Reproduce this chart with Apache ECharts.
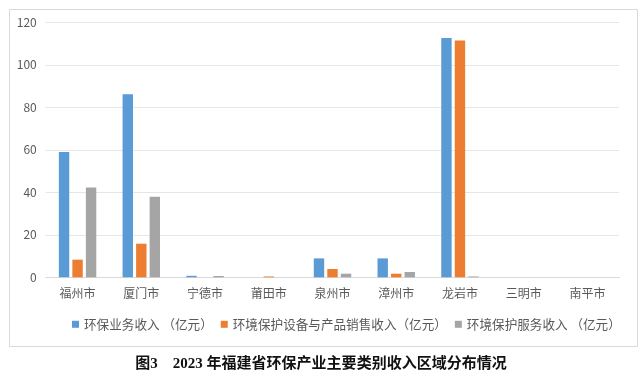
<!DOCTYPE html>
<html>
<head>
<meta charset="utf-8">
<script src="https://cdn.jsdelivr.net/npm/echarts@6/dist/echarts.min.js"></script>
<style>
html,body{margin:0;padding:0;background:#fff;}
#chart{width:642px;height:375px;}
</style>
</head>
<body>
<div id="chart"></div>
<script>
const categories = ['福州市','厦门市','宁德市','莆田市','泉州市','漳州市','龙岩市','三明市','南平市'];
const seriesNames = ['环保业务收入 （亿元）','环境保护设备与产品销售收入（亿元）','环境保护服务收入 （亿元）'];
const businessIncome = [59, 86.1, 0.7, 0, 8.9, 8.9, 112.6, 0, 0];
const equipmentIncome = [8.3, 15.8, 0, 0.4, 3.9, 1.7, 111.4, 0, 0];
const serviceIncome = [42.2, 37.9, 0.6, 0, 1.7, 2.5, 0.4, 0, 0];
const yTicks = [0, 20, 40, 60, 80, 100, 120];
const figureTitle = '图3　2023 年福建省环保产业主要类别收入区域分布情况';

const colors = ['#5B9BD5', '#ED7D31', '#A5A5A5'];
const font = "'Noto Sans CJK SC', sans-serif";
const chart = echarts.init(document.getElementById('chart'), null, {renderer: 'canvas'});
const values = [businessIncome, equipmentIncome, serviceIncome];
chart.setOption({
  animation: false,
  color: colors,
  textStyle: {fontFamily: font},
  graphic: [
    {type: 'rect', left: 7, top: 7, shape: {x: 0, y: 0, width: 628, height: 337},
     style: {fill: 'none', stroke: '#d9d9d9', lineWidth: 1}, silent: true},
    {type: 'text', left: 'center', top: 357,
     style: {text: figureTitle, font: "bold 15px 'Liberation Serif', 'Noto Sans CJK SC', serif", fill: '#111'}}
  ],
  grid: {left: 45.7, right: 22.7, top: 22.3, bottom: 97.7, containLabel: false},
  legend: {
    left: 67, top: 313,
    icon: 'rect', itemWidth: 7, itemHeight: 7, itemGap: 8,
    textStyle: {fontSize: 12.6, color: '#595959', fontFamily: font},
    data: seriesNames
  },
  xAxis: {
    type: 'category', data: categories,
    axisLine: {lineStyle: {color: '#d9d9d9'}},
    axisTick: {show: false},
    axisLabel: {fontSize: 12, color: '#595959', margin: 10, fontFamily: font}
  },
  yAxis: {
    type: 'value', min: yTicks[0], max: yTicks[yTicks.length - 1], interval: 20,
    axisLine: {show: false}, axisTick: {show: false},
    splitLine: {lineStyle: {color: '#e6e6e6'}},
    axisLabel: {fontSize: 12, color: '#595959', margin: 9, fontFamily: font}
  },
  series: values.map((v, i) => ({
    name: seriesNames[i], type: 'bar', data: v,
    barWidth: 10.4, barGap: '30%'
  }))
});
</script>
</body>
</html>
